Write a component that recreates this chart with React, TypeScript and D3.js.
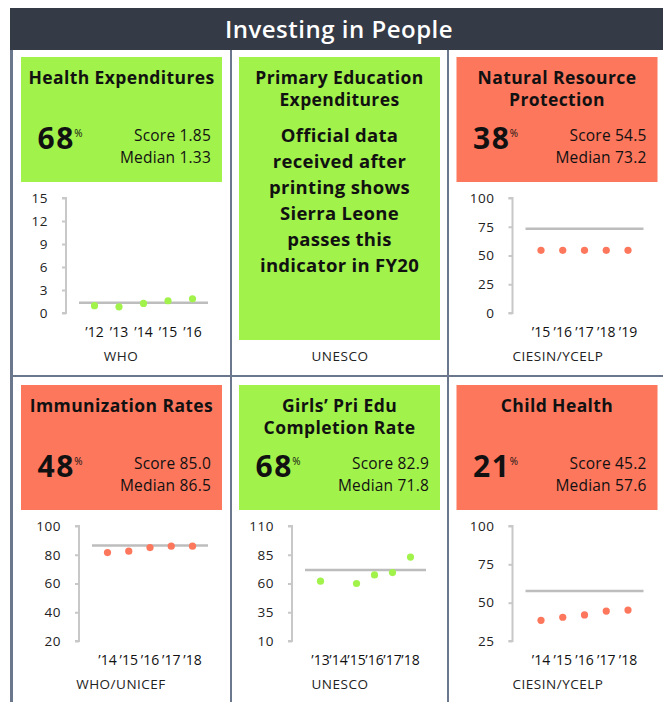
import React, { useEffect, useRef } from 'react';
import * as d3 from 'd3';

const GREEN = '#a2f24c';
const RED = '#fd775d';
const FONT = '"Open Sans", "Noto Sans", sans-serif';

// Health Expenditures
const healthYears = ['’12', '’13', '’14', '’15', '’16'];
const healthValues = [0.95, 0.8, 1.25, 1.6, 1.85];
const healthTicks = [0, 3, 6, 9, 12, 15];
const healthMedian = 1.33;

// Natural Resource Protection
const natureYears = ['’15', '’16', '’17', '’18', '’19'];
const natureValues = [54.5, 54.5, 54.5, 54.5, 54.5];
const natureTicks = [0, 25, 50, 75, 100];
const natureMedian = 73.2;

// Immunization Rates
const immunYears = ['’14', '’15', '’16', '’17', '’18'];
const immunValues = [81.5, 82.5, 85, 86, 86];
const immunTicks = [20, 40, 60, 80, 100];
const immunMedian = 86.5;

// Girls' Pri Edu Completion Rate ('14 has no value)
const girlsYears = ['’13', '’14', '’15', '’16', '’17', '’18'];
const girlsValues = [62, null, 60, 67.5, 69.5, 83];
const girlsTicks = [10, 35, 60, 85, 110];
const girlsMedian = 71.8;

// Child Health
const childYears = ['’14', '’15', '’16', '’17', '’18'];
const childValues = [38.5, 40.5, 42, 44.5, 45.2];
const childTicks = [25, 50, 75, 100];
const childMedian = 57.6;

const eduNote = ['Official data', 'received after', 'printing shows', 'Sierra Leone', 'passes this', 'indicator in FY20'];

const panels = [
  { col: 0, row: 0, pass: true, title: ['Health Expenditures'], pct: '68', score: 'Score 1.85', median: 'Median 1.33', source: 'WHO',
    years: healthYears, values: healthValues, ticks: healthTicks, med: healthMedian, axisOff: 45 },
  { col: 1, row: 0, pass: true, title: ['Primary Education', 'Expenditures'], source: 'UNESCO', note: eduNote },
  { col: 2, row: 0, pass: false, title: ['Natural Resource', 'Protection'], pct: '38', score: 'Score 54.5', median: 'Median 73.2', source: 'CIESIN/YCELP',
    years: natureYears, values: natureValues, ticks: natureTicks, med: natureMedian, axisOff: 56 },
  { col: 0, row: 1, pass: false, title: ['Immunization Rates'], pct: '48', score: 'Score 85.0', median: 'Median 86.5', source: 'WHO/UNICEF',
    years: immunYears, values: immunValues, ticks: immunTicks, med: immunMedian, axisOff: 58 },
  { col: 1, row: 1, pass: true, title: ['Girls’ Pri Edu', 'Completion Rate'], pct: '68', score: 'Score 82.9', median: 'Median 71.8', source: 'UNESCO',
    years: girlsYears, values: girlsValues, ticks: girlsTicks, med: girlsMedian, axisOff: 53 },
  { col: 2, row: 1, pass: false, title: ['Child Health'], pct: '21', score: 'Score 45.2', median: 'Median 57.6', source: 'CIESIN/YCELP',
    years: childYears, values: childValues, ticks: childTicks, med: childMedian, axisOff: 56 },
];

const W = 663;
const H = 702;
const boxX = [21, 239, 456.5];
const cellX = [12, 231, 449];
const rowTop = [50, 378];
const boxW = 201;

export default function App() {
  const svgRef = useRef<SVGSVGElement>(null);

  useEffect(() => {
    if (!svgRef.current) return;
    const svg = d3.select(svgRef.current);
    svg.selectAll('*').remove();
    svg.style('font-family', FONT);

    // header
    svg.append('rect').attr('x', 10).attr('y', 8).attr('width', W - 10).attr('height', 42).attr('fill', '#343a46');
    svg.append('text').attr('x', 339).attr('y', 38).attr('text-anchor', 'middle')
      .attr('fill', '#fff').attr('font-size', 24).attr('font-weight', 600).attr('letter-spacing', 0.5)
      .text('Investing in People');

    // grid lines
    const gridColor = '#6a778c';
    svg.append('line').attr('x1', 11.5).attr('x2', 11.5).attr('y1', 50).attr('y2', H).attr('stroke', gridColor).attr('stroke-width', 3);
    [231, 448].forEach(x => {
      svg.append('line').attr('x1', x).attr('x2', x).attr('y1', 50).attr('y2', H).attr('stroke', gridColor).attr('stroke-width', 2);
    });
    svg.append('line').attr('x1', 10).attr('x2', W).attr('y1', 376).attr('y2', 376).attr('stroke', gridColor).attr('stroke-width', 2);

    panels.forEach(p => {
      const bx = boxX[p.col];
      const top = rowTop[p.row];
      const by = top + 7;
      const color = p.pass ? GREEN : RED;
      const g = svg.append('g');
      const boxH = p.note ? 283 : 125;

      g.append('rect').attr('x', bx).attr('y', by).attr('width', boxW).attr('height', boxH).attr('fill', color);

      p.title.forEach((t, i) => {
        g.append('text').attr('x', bx + boxW / 2).attr('y', by + 26.5 + i * 22.3)
          .attr('text-anchor', 'middle').attr('font-size', 17.5).attr('font-weight', 700)
          .attr('letter-spacing', 0.4).attr('fill', '#111').text(t);
      });

      const cx = cellX[p.col] + 109;
      g.append('text').attr('x', cx).attr('y', top + 311).attr('text-anchor', 'middle')
        .attr('font-size', 13.5).attr('letter-spacing', 0.5).attr('fill', '#222').text(p.source);

      if (p.note) {
        p.note.forEach((t, i) => {
          g.append('text').attr('x', bx + boxW / 2).attr('y', by + 85 + i * 25.9)
            .attr('text-anchor', 'middle').attr('font-size', 18.5).attr('font-weight', 700)
            .attr('letter-spacing', 0.3).attr('fill', '#111').text(t);
        });
        return;
      }

      const pct = g.append('text').attr('x', bx + 16.5).attr('y', by + 92.3)
        .attr('font-size', 30).attr('font-weight', 700).attr('letter-spacing', 1.5).attr('fill', '#111').text(p.pct);
      pct.append('tspan').attr('font-size', 10).attr('font-weight', 400).attr('letter-spacing', 0)
        .attr('dx', -0.5).attr('dy', -12).text('%');

      g.append('text').attr('x', bx + boxW - 11).attr('y', by + 83.7).attr('text-anchor', 'end')
        .attr('font-size', 15.5).attr('letter-spacing', 0.2).attr('fill', '#111').text(p.score);
      g.append('text').attr('x', bx + boxW - 11).attr('y', by + 105.7).attr('text-anchor', 'end')
        .attr('font-size', 15.5).attr('letter-spacing', 0.2).attr('fill', '#111').text(p.median);

      // chart
      const axisX = bx + p.axisOff;
      const lineX0 = axisX + 13;
      const lineX1 = bx + 187;
      const y = d3.scaleLinear()
        .domain([d3.min(p.ticks) as number, d3.max(p.ticks) as number])
        .range([top + 263, top + 148]);
      const x = d3.scalePoint<string>().domain(p.years).range([lineX0 + 15.5, lineX1 - 15.5]);

      const axis = d3.axisLeft(y).tickValues(p.ticks).tickSize(4).tickPadding(14).tickFormat(d3.format('d'));
      const ag = g.append('g').attr('transform', `translate(${axisX},0)`).call(axis);
      ag.select('.domain').attr('stroke', '#c8c8c8').attr('stroke-width', 2).attr('d', `M-4,${y.range()[1]}H0V${y.range()[0]}H-4`);
      ag.selectAll('.tick line').attr('stroke', '#c8c8c8').attr('stroke-width', 2);
      ag.selectAll('.tick text').attr('font-family', FONT).attr('font-size', 13.5)
        .attr('letter-spacing', 0.5).attr('fill', '#222');

      g.append('line').attr('x1', lineX0).attr('x2', lineX1).attr('y1', y(p.med)).attr('y2', y(p.med))
        .attr('stroke', '#bdbdbd').attr('stroke-width', 2.5);

      g.selectAll('circle.pt')
        .data(p.years.map((yr, i) => ({ yr, v: p.values[i] })).filter(d => d.v != null))
        .enter().append('circle')
        .attr('cx', d => x(d.yr) as number)
        .attr('cy', d => y(d.v as number))
        .attr('r', 3.6)
        .attr('fill', color);

      g.selectAll('text.yr')
        .data(p.years)
        .enter().append('text')
        .attr('x', d => x(d) as number)
        .attr('y', top + 287.3)
        .attr('text-anchor', 'middle')
        .attr('font-size', 14)
        .attr('fill', '#111')
        .text(d => d);
    });
  }, []);

  return (
    <svg
      ref={svgRef}
      width={W}
      height={H}
      style={{ position: 'absolute', left: 0, top: 0, background: '#fff' }}
    />
  );
}
